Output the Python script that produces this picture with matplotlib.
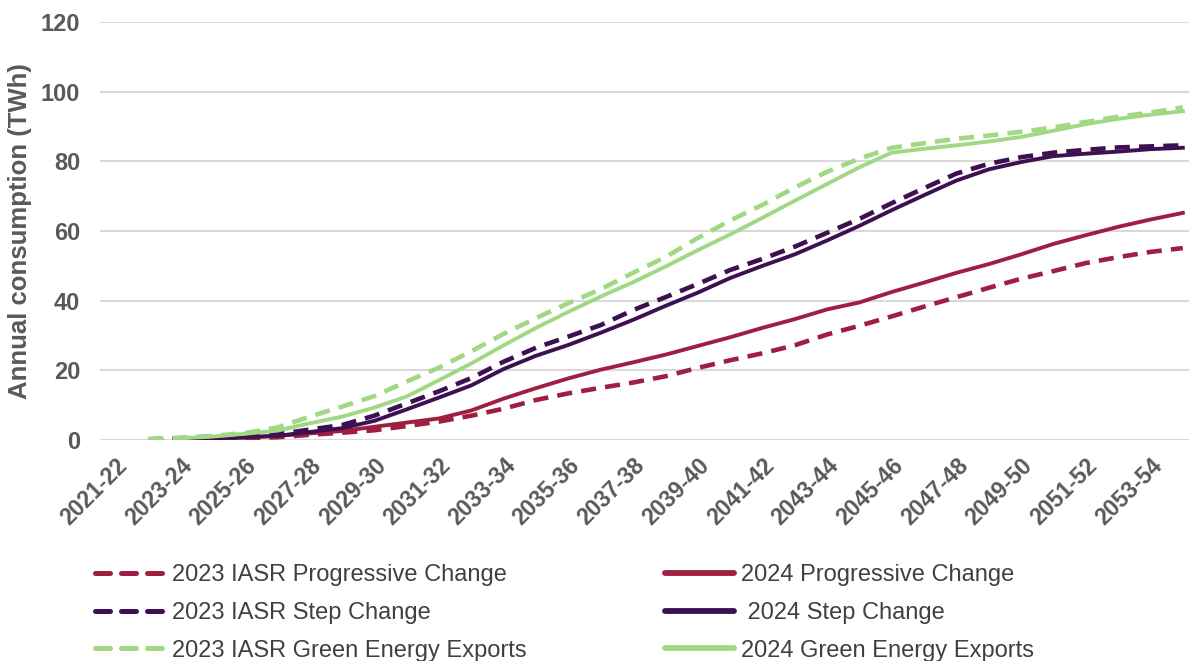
import matplotlib.pyplot as plt
from matplotlib.lines import Line2D
from matplotlib.transforms import ScaledTranslation

years = [f"{y}-{str(y + 1)[2:]}" for y in range(2021, 2055)]

# 2023 IASR series start in 2022-23, 2024 series start in 2023-24
iasr23_progressive = [None, 0.1, 0.2, 0.3, 0.5, 0.8, 1.5, 2.1, 2.8, 4.0, 5.3, 7.0, 9.0, 11.5,
                      13.4, 15.0, 16.5, 18.3, 20.7, 22.9, 24.9, 27.2, 30.3, 32.8, 35.5, 38.3,
                      41.0, 43.7, 46.3, 48.5, 50.8, 52.5, 54.0, 55.1]
iasr23_step = [None, 0.2, 0.5, 0.9, 1.2, 1.7, 3.0, 4.3, 7.0, 10.5, 14.0, 17.8, 22.5, 26.5,
               29.7, 33.0, 37.3, 41.0, 44.8, 48.8, 52.0, 55.5, 59.5, 63.5, 68.0, 72.3,
               76.5, 79.3, 81.2, 82.5, 83.3, 84.0, 84.3, 84.6]
iasr23_green = [None, 0.3, 0.7, 1.2, 2.0, 3.6, 6.7, 9.6, 12.6, 16.8, 20.8, 25.5, 30.5, 35.0,
                39.3, 43.3, 48.0, 52.5, 58.0, 63.0, 67.5, 72.5, 77.0, 80.8, 83.9, 85.2,
                86.5, 87.4, 88.5, 89.7, 91.3, 92.8, 94.0, 95.5]

isp24_progressive = [None, None, 0.2, 0.4, 0.7, 1.2, 1.9, 2.6, 3.8, 5.0, 6.2, 8.5, 11.9, 14.9,
                     17.7, 20.2, 22.3, 24.5, 27.0, 29.5, 32.2, 34.7, 37.5, 39.5, 42.5, 45.2,
                     48.0, 50.5, 53.3, 56.3, 58.8, 61.2, 63.3, 65.2]
isp24_step = [None, None, 0.3, 0.5, 0.8, 1.2, 2.3, 3.4, 5.5, 8.8, 12.2, 15.7, 20.4, 24.2,
              27.3, 30.8, 34.5, 38.5, 42.3, 46.5, 50.0, 53.3, 57.3, 61.5, 66.0, 70.3,
              74.5, 77.7, 79.8, 81.5, 82.2, 82.8, 83.5, 83.9]
isp24_green = [None, None, 0.5, 1.0, 1.8, 2.7, 4.8, 6.7, 9.3, 12.5, 17.2, 22.0, 27.2, 32.2,
               36.8, 41.2, 45.3, 49.8, 54.5, 59.0, 63.8, 68.7, 73.5, 78.3, 82.5, 83.6,
               84.6, 85.7, 87.0, 88.8, 90.7, 92.2, 93.4, 94.4]

red = '#9E1F40'
purple = '#3D1052'
green = '#A0D884'
font = 'Liberation Sans'

fig = plt.figure(figsize=(11.89, 6.61), dpi=100)
ax = fig.add_axes([0.0837, 0.3343, 0.9247, 0.6324])

x = list(range(len(years)))
dash = (0, (3.3, 2.0))

def clean(vals):
    return [float('nan') if v is None else v for v in vals]

ax.plot(x, clean(isp24_progressive), color=red, lw=2.8, zorder=3)
ax.plot(x, clean(iasr23_progressive), color=red, lw=3.3, ls=dash, zorder=3)
ax.plot(x, clean(isp24_step), color=purple, lw=2.8, zorder=3)
ax.plot(x, clean(iasr23_step), color=purple, lw=3.3, ls=dash, zorder=3)
ax.plot(x, clean(isp24_green), color=green, lw=2.8, zorder=3)
ax.plot(x, clean(iasr23_green), color=green, lw=3.3, ls=dash, zorder=3)

ax.set_xlim(-0.5, 33.5)
ax.set_ylim(0, 120)
ax.set_yticks(range(0, 121, 20))
ax.set_xticks(x[::2])
ax.set_xticklabels(years[::2], rotation=45, ha='right', rotation_mode='anchor',
                   fontsize=16.5, fontweight='bold', color='#595959', family=font)
# nudge the slanted labels a little down and left
offset = ScaledTranslation(-4 / 72, -3 / 72, fig.dpi_scale_trans)
for lab in ax.get_xticklabels():
    lab.set_transform(lab.get_transform() + offset)
for lab in ax.get_yticklabels():
    lab.set_fontsize(17)
    lab.set_fontweight('bold')
    lab.set_color('#595959')
    lab.set_family(font)
ax.tick_params(axis='y', length=0, pad=14)
ax.tick_params(axis='x', length=0, pad=10)
ax.grid(axis='y', color='#D9D9D9', lw=1.5, zorder=0)
for s in ax.spines.values():
    s.set_visible(False)
ax.set_ylabel('Annual consumption (TWh)', fontsize=18.5, fontweight='bold', color='#595959',
              family=font, labelpad=6)

leg_dash = (0, (3.0, 2.2))
left_handles = [Line2D([], [], color=c, lw=3.6, ls=leg_dash, dash_capstyle='round')
                for c in (red, purple, green)]
left_labels = ['2023 IASR Progressive Change', '2023 IASR Step Change',
               '2023 IASR Green Energy Exports']
right_handles = [Line2D([], [], color=c, lw=4.2, solid_capstyle='round')
                 for c in (red, purple, green)]
right_labels = ['2024 Progressive Change', ' 2024 Step Change', '2024 Green Energy Exports']

legend_font = {'family': font, 'size': 17}
for handles, labels, xpos in [(left_handles, left_labels, 0.080), (right_handles, right_labels, 0.559)]:
    leg = fig.legend(handles, labels, loc='upper left', bbox_to_anchor=(xpos, 0.146),
                     frameon=False, prop=legend_font, handlelength=2.95, handletextpad=0.3,
                     labelspacing=0.66, borderpad=0, borderaxespad=0)
    for t in leg.get_texts():
        t.set_color('#404040')

fig.savefig('out.png', dpi=100)
